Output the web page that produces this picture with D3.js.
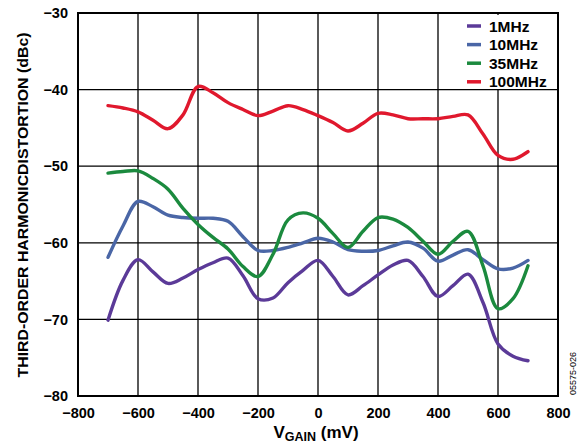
<!DOCTYPE html>
<html>
<head>
<meta charset="utf-8">
<script src="https://cdn.jsdelivr.net/npm/d3@7"></script>
<style>
  body { margin: 0; background: #fff; }
  svg { display: block; font-family: "Liberation Sans", Arial, sans-serif; }
</style>
</head>
<body>
<svg id="chart" width="585" height="443"></svg>
<script>
// V_GAIN sample points (mV)
let vgain = [-700, -650, -600, -550, -500, -450, -400, -350, -300, -250, -200, -150, -100, -50, 0,
             50, 100, 150, 200, 250, 300, 350, 400, 450, 500, 550, 600, 650, 700];

let hd1MHz = [-70.1, -64.9, -62.2, -63.8, -65.3, -64.6, -63.5, -62.6, -62.0, -64.3, -67.3, -67.2, -65.2, -63.6, -62.3,
              -64.4, -66.8, -65.6, -64.2, -62.9, -62.3, -64.4, -67.0, -65.6, -64.1, -67.8, -73.2, -74.8, -75.4];
let hd10MHz = [-61.9, -57.8, -54.6, -55.3, -56.4, -56.7, -56.8, -56.8, -57.2, -59.2, -61.0, -61.0, -60.6, -60.0, -59.4,
               -59.9, -60.9, -61.1, -61.0, -60.4, -59.9, -60.7, -62.4, -61.6, -60.9, -62.2, -63.4, -63.3, -62.3];
let hd35MHz = [-50.9, -50.7, -50.6, -51.6, -53.0, -55.5, -57.6, -59.3, -60.8, -63.1, -64.4, -61.5, -57.0, -56.1, -56.8,
               -58.8, -60.6, -58.5, -56.7, -56.9, -58.0, -59.8, -61.5, -59.8, -58.5, -63.0, -68.6, -67.3, -63.0];
let hd100MHz = [-42.1, -42.4, -42.9, -44.0, -45.1, -43.3, -39.6, -40.4, -41.7, -42.6, -43.4, -42.8, -42.1, -42.6, -43.4,
                -44.3, -45.4, -44.4, -43.1, -43.3, -43.8, -43.8, -43.8, -43.5, -43.3, -45.8, -48.6, -49.1, -48.1];

let seriesNames = ["1MHz", "10MHz", "35MHz", "100MHz"];
let seriesColors = ["#5b3a98", "#4a66a6", "#1b8a3e", "#e0182d"];
let seriesValues = [hd1MHz, hd10MHz, hd35MHz, hd100MHz];

let xTicks = [-800, -600, -400, -200, 0, 200, 400, 600, 800];
let yTicks = [-30, -40, -50, -60, -70, -80];

let svg = d3.select("#chart");
let pLeft = 78, pRight = 558, pTop = 13, pBottom = 396;

let x = d3.scaleLinear().domain([-800, 800]).range([pLeft, pRight]);
let y = d3.scaleLinear().domain([-80, -30]).range([pBottom, pTop]);

// grid
let grid = svg.append("g").attr("stroke", "#000").attr("stroke-width", 1.3);
grid.selectAll(".vg")
    .data(xTicks.slice(1, -1))
    .enter().append("line")
    .attr("x1", function(d) { return x(d); })
    .attr("x2", function(d) { return x(d); })
    .attr("y1", pTop)
    .attr("y2", pBottom);
grid.selectAll(".hg")
    .data(yTicks.slice(1, -1))
    .enter().append("line")
    .attr("x1", pLeft)
    .attr("x2", pRight)
    .attr("y1", function(d) { return y(d); })
    .attr("y2", function(d) { return y(d); });

// tick labels through axes, no tick lines
let fmt = function(d) { return d < 0 ? "\u2212" + Math.abs(d) : d; };
let xAxis = svg.append("g")
    .attr("transform", "translate(0," + pBottom + ")")
    .call(d3.axisBottom(x).tickValues(xTicks).tickSize(0).tickPadding(12).tickFormat(fmt));
let yAxis = svg.append("g")
    .attr("transform", "translate(" + pLeft + ",0)")
    .call(d3.axisLeft(y).tickValues(yTicks).tickSize(0).tickPadding(10).tickFormat(fmt));
[xAxis, yAxis].forEach(function(a) {
  a.select(".domain").remove();
  a.selectAll("text")
      .attr("font-family", "Liberation Sans, Arial, sans-serif")
      .attr("font-size", 14.5)
      .attr("font-weight", "bold")
      .attr("fill", "#000");
});

// curves
let line = d3.line()
    .x(function(d, i) { return x(vgain[i]); })
    .y(function(d) { return y(d); })
    .curve(d3.curveCatmullRom.alpha(0.5));

svg.append("g").selectAll("path")
    .data(seriesValues)
    .enter().append("path")
    .attr("d", function(d) { return line(d); })
    .attr("fill", "none")
    .attr("stroke", function(d, i) { return seriesColors[i]; })
    .attr("stroke-width", 3.4)
    .attr("stroke-linejoin", "round")
    .attr("stroke-linecap", "round");

// legend
let legend = svg.append("g");
legend.append("rect")
    .attr("x", 460).attr("y", 15)
    .attr("width", 96).attr("height", 74)
    .attr("fill", "#fff");
let items = legend.selectAll(".item")
    .data(seriesNames)
    .enter().append("g")
    .attr("transform", function(d, i) { return "translate(467," + (26 + i * 18.6) + ")"; });
items.append("line")
    .attr("x1", 0).attr("x2", 14)
    .attr("stroke", function(d, i) { return seriesColors[i]; })
    .attr("stroke-width", 3.5);
items.append("text")
    .attr("x", 22)
    .attr("dy", "0.36em")
    .attr("font-size", 15.5)
    .attr("font-weight", "bold")
    .text(function(d) { return d; });

// frame
svg.append("rect")
    .attr("x", pLeft).attr("y", pTop)
    .attr("width", pRight - pLeft).attr("height", pBottom - pTop)
    .attr("fill", "none")
    .attr("stroke", "#000")
    .attr("stroke-width", 2);

// axis titles
let xt = svg.append("text")
    .attr("x", 316).attr("y", 438)
    .attr("text-anchor", "middle")
    .attr("font-size", 17)
    .attr("font-weight", "bold");
xt.append("tspan").text("V");
xt.append("tspan").attr("font-size", 12.5).attr("dy", 3).text("GAIN");
xt.append("tspan").attr("dy", -3).text(" (mV)");

svg.append("text")
    .attr("transform", "translate(28,205) rotate(-90)")
    .attr("text-anchor", "middle")
    .attr("font-size", 14.5)
    .attr("font-weight", "bold")
    .attr("textLength", 345)
    .attr("lengthAdjust", "spacingAndGlyphs")
    .text("THIRD-ORDER HARMONICDISTORTION (dBc)");

svg.append("text")
    .attr("transform", "translate(576,395) rotate(-90)")
    .attr("font-size", 9)
    .text("05575-026");
</script>
</body>
</html>
